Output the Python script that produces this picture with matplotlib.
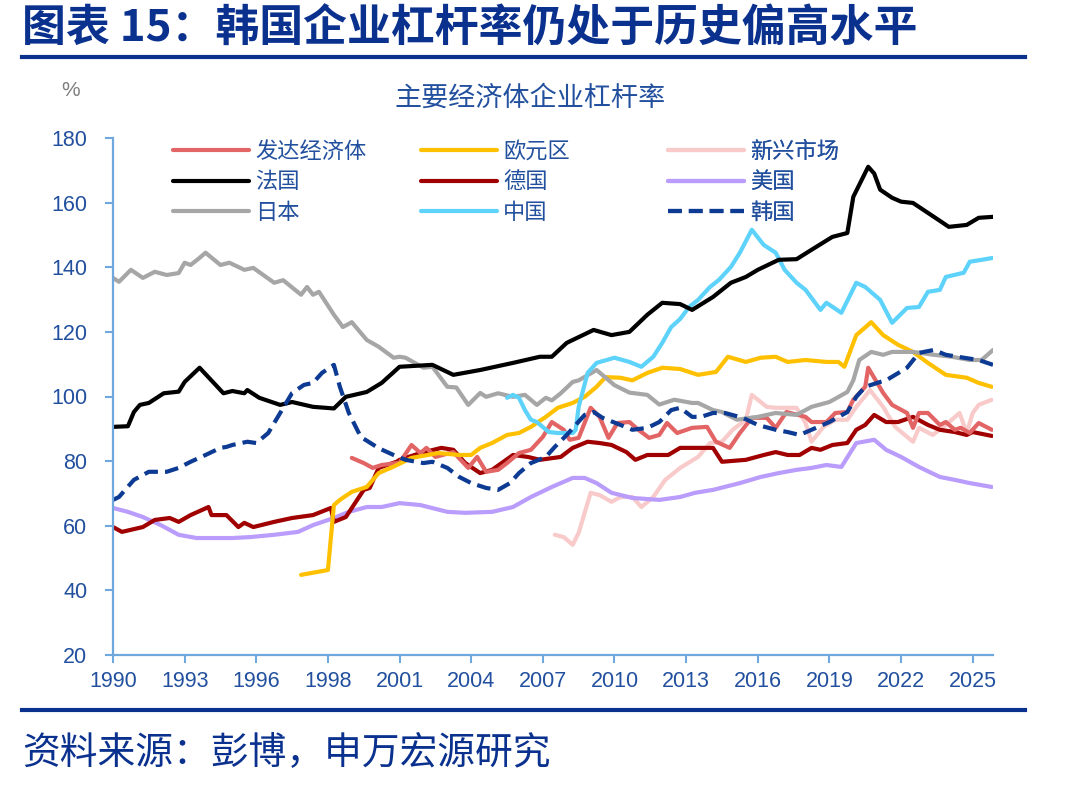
import matplotlib
matplotlib.use("Agg")
import matplotlib.pyplot as plt
from matplotlib.lines import Line2D

plt.rcParams['font.family'] = ['Liberation Sans', 'Noto Sans CJK SC', 'DejaVu Sans']

# ---------------- data (x = category index of the quarterly axis) ----------------
tick_labels = ['1990', '1993', '1996', '1998', '2001', '2004', '2007',
               '2010', '2013', '2016', '2019', '2022', '2025']

dev_x = [40, 42, 43.5, 45, 48, 50, 51.5, 52.5, 54, 57, 59.5, 61, 62.5, 64.5, 66, 68, 70, 72,
         73.5, 75.5, 76.5, 78, 80, 81.5, 83, 84.5, 86.5, 88, 89.8, 91.5, 92.8, 94.5, 97, 99.5,
         101, 103.3, 105, 107, 109.5, 111, 112.8, 116, 117, 119.5, 121, 123, 124, 126, 126.5,
         129, 130.5, 133, 134, 135, 136.5, 138.5, 139.5, 141, 142, 143.5, 145, 147.2]
dev_y = [81, 79.4, 77.9, 78.8, 79.5, 85, 82.5, 84.1, 81.3, 82.8, 77.9, 81.3, 76.7, 77.3, 79.4,
         82.5, 83.5, 87.5, 92.1, 89.7, 86.6, 87.2, 96.5, 93.7, 87.2, 91.8, 92.1, 89.7, 87.2, 88.1,
         91.8, 88.7, 90.3, 90.6, 86, 84.1, 88.7, 93.4, 93.4, 90.3, 95.2, 93.7, 92.1, 92.1, 94.9,
         95.2, 99, 103, 108.9, 101.1, 97.4, 94.9, 90.3, 94.9, 94.9, 91.2, 92.1, 89.7, 90.3, 88.7,
         91.8, 89.7]

euro_x = [31.5, 36, 37, 38, 40, 42.5, 44.5, 47, 50, 54.5, 58, 60, 61.5, 63.5, 66, 68, 70, 72.5,
          74.5, 77, 79, 81, 82.5, 85, 87, 89.5, 92, 95, 98, 101, 103, 106, 108.5, 111, 113, 116,
          119.5, 121.5, 122.5, 124.5, 127, 129, 131.5, 134, 136.5, 139.5, 143, 145, 147.2]
euro_y = [44.8, 46.3, 66.4, 68, 70.5, 72, 76.3, 78.3, 81, 82.5, 81.9, 81.9, 84.1, 85.6, 88.1,
          88.7, 90.6, 93.7, 96.5, 98, 99.9, 103, 106, 105.8, 105, 107.3, 108.9, 108.5, 106.7,
          107.6, 112.3, 110.7, 112, 112.3, 110.7, 111.3, 110.7, 110.7, 109.2, 119, 123, 119, 116,
          113.8, 110.4, 106.7, 105.8, 104.2, 103]

em_x = [74, 75.5, 77, 78, 80, 81.5, 83.5, 85, 87, 88.5, 90.5, 92.5, 95, 98, 100, 102, 103.8,
        106, 107, 109.5, 111, 114.5, 116, 117, 119, 121, 123, 124.5, 126.8, 129, 131, 134, 135,
        137.3, 139.5, 141.8, 143, 144, 145, 147.2]
em_y = [57.2, 56.5, 54.1, 57.8, 70.2, 69.5, 67.4, 68.9, 68.9, 65.8, 68.9, 74.2, 77.9, 81.3,
        85.6, 86, 89.7, 92.8, 100.5, 96.8, 96.5, 96.5, 91.8, 86, 90.6, 92.8, 92.8, 96.8, 102,
        96.8, 90.6, 86, 90.3, 88.1, 91.2, 94.9, 88.7, 94.9, 97.4, 99]

fr_x = [0, 2.5, 3.5, 4.5, 6, 8.5, 11, 12, 14.5, 18.5, 20, 22, 22.5, 24.5, 28, 30, 33.5, 37, 39,
        42.5, 45, 48, 53.5, 57, 61.5, 67, 71.5, 73.5, 76, 80.5, 83.5, 86.5, 89.5, 92, 95, 97,
        100.5, 103.5, 106, 108, 111.5, 114.5, 117, 120.5, 123, 124, 126.5, 127.5, 128.5, 130.5,
        132, 134, 137.5, 140, 143, 145, 147.4]
fr_y = [90.6, 90.8, 95.2, 97.4, 98, 101, 101.5, 104.5, 108.9, 101, 101.7, 101, 102, 99.6, 97.4,
        98.3, 96.8, 96.3, 99.9, 101.4, 104.2, 109.2, 109.8, 106.7, 108.2, 110.4, 112.3, 112.3,
        116.6, 120.6, 119, 120, 125.3, 129, 128.6, 126.8, 130.8, 135.2, 137, 139.2, 142.3,
        142.5, 145.4, 149.4, 150.6, 161.8, 171.1, 169, 164, 161.5, 160.3, 159.9, 155.6, 152.5,
        153.1, 155.3, 155.6]

de_x = [0, 1.5, 5, 7, 9.5, 11, 13, 16, 16.5, 19, 21, 22, 23.5, 27, 30, 33.5, 36.5, 37, 39, 42,
        43, 44.5, 47.5, 48, 51.5, 55, 57, 59, 61.5, 63.5, 67, 69.5, 71.5, 75, 77, 79.5, 81.5,
        83.5, 86, 87.5, 89.5, 93, 95, 97.5, 100.5, 102, 106, 109, 111, 113, 115, 117, 118.5,
        120.5, 123, 124.5, 126, 127.5, 129.5, 131.5, 134, 136.5, 138.5, 141, 143, 144, 147.2]
de_y = [59.6, 58.1, 59.6, 61.8, 62.4, 61.2, 63.3, 65.8, 63.3, 63.3, 59.6, 60.9, 59.6, 61.2,
        62.4, 63.3, 65.5, 61.2, 62.7, 71.1, 71.7, 77.9, 79.8, 80.4, 82.5, 84.1, 83.5, 79.4, 76.3,
        77.3, 81.9, 81.3, 80.4, 81.3, 84.1, 86, 85.6, 85, 82.8, 80.4, 81.9, 81.9, 84.1, 84.1,
        84.1, 79.8, 80.4, 81.9, 82.8, 81.9, 81.9, 84.1, 83.5, 85, 85.6, 89.7, 91.2, 94.3, 92.1,
        92.1, 93.7, 91.2, 89.7, 89, 88.1, 89, 87.8]

us_x = [0, 2.5, 5, 8, 11, 14, 17, 20, 23, 27, 31, 33.5, 37, 39.5, 42.5, 45, 48, 51.5, 56, 59,
        63.5, 67, 70, 73.5, 77, 79, 81, 83.5, 87, 91.5, 95, 97.5, 100.5, 105, 108.5, 111.5,
        114.5, 117, 119.5, 122, 124.5, 127.5, 129.5, 132, 135, 138.5, 141, 143.5, 147.2]
us_y = [65.5, 64.3, 62.7, 60.2, 57.2, 56.2, 56.2, 56.2, 56.5, 57.2, 58.1, 60.2, 62.4, 64.3,
        65.8, 65.8, 67, 66.4, 64.3, 64, 64.3, 65.8, 68.9, 72, 74.8, 74.8, 73.2, 70.2, 68.6, 68,
        68.9, 70.2, 71.1, 73.2, 75.1, 76.3, 77.3, 77.9, 78.8, 78.2, 85.6, 86.6, 83.5, 81.3, 78.2,
        75.1, 74.2, 73.2, 72]

jp_x = [0, 1, 3, 5, 7, 9, 11, 12, 13, 14.5, 15.5, 18, 19.5, 22, 23.5, 27, 28.5, 31.5, 32.5,
        33.5, 34.5, 37, 38.5, 40, 42.5, 44.5, 47, 48, 49, 52, 53.5, 56, 57.5, 59.5, 61.5, 62.5,
        64.5, 67, 69, 71, 72.5, 73.5, 75, 77, 78, 81, 84, 86.5, 89.5, 91.5, 94, 97, 98, 100.5,
        102, 104.5, 108, 111, 114.5, 117, 120, 123, 124, 125, 127, 129, 130.5, 134, 137.5,
        140.5, 143.5, 145.5, 147.4]
jp_y = [136.7, 135.5, 139.2, 136.7, 138.6, 137.6, 138.2, 141.4, 140.7, 142.9, 144.5, 140.7,
        141.4, 139.2, 139.8, 135.2, 136, 131.5, 133.9, 131.5, 132.4, 125.3, 121.5, 123, 117.5,
        115.4, 112, 112.3, 112, 108.9, 109.2, 103, 102.8, 97.4, 101.1, 99.9, 101, 99.9, 100.5,
        97.4, 99.6, 98.8, 101, 104.5, 105, 108.2, 103.5, 101.2, 100.5, 97.5, 99, 98, 98, 95.8,
        95.2, 92.8, 93.7, 94.9, 94.3, 96.8, 98.3, 101.4, 105, 111.3, 113.8, 112.9, 113.8, 113.8,
        112.9, 112.3, 111.3, 111.3, 114.4]

cn_x = [66, 67, 68, 69, 70, 71, 73, 74.5, 77, 77.5, 78, 79.5, 81, 84, 86.5, 88.5, 90.5, 92,
        93.5, 95, 96.5, 98, 100, 101.5, 103.5, 105, 107, 109, 111, 112.5, 114.5, 116, 118.5,
        119.5, 122, 124.5, 126, 128.5, 130.5, 133, 135, 136.5, 138.5, 139.5, 142.5, 143.5,
        145.5, 147.4]
cn_y = [99.6, 100.5, 99.6, 95.8, 92.8, 92.1, 89, 88.7, 88.7, 89.7, 96.8, 107.3, 110.4, 112,
        110.7, 109.2, 112.3, 116.6, 121.5, 124, 127.7, 129.9, 133.9, 136.1, 140.1, 144.5, 151.6,
        146.9, 144.5, 139.2, 135.2, 133, 126.8, 129, 125.9, 135.2, 133.9, 129.9, 122.8, 127.4,
        127.7, 132.4, 133, 137, 138.3, 141.7, 142.3, 142.9]

kr_x = [0, 1, 3.5, 6, 9, 11, 13, 15.5, 18, 19, 20, 22.5, 24, 26, 28, 30, 32, 33.5, 35, 37, 38,
        39.5, 41.5, 44.5, 47, 49, 52, 53.5, 56, 58, 60, 62.5, 64.5, 66.5, 68, 70, 72.5, 74, 76,
        77.5, 79, 80.5, 82, 85, 87, 89.5, 91.5, 93.5, 95, 97, 98.5, 100.5, 102.5, 105.5, 108,
        111, 113, 115, 117, 120, 123, 124.5, 126, 128.5, 129.5, 133, 135, 137.5, 139.5, 142.5,
        145, 147.4]
kr_y = [68, 68.9, 74.2, 76.7, 76.7, 77.9, 79.8, 81.9, 84.1, 84.4, 85, 86, 85.6, 88.7, 94.9,
        101.1, 103.6, 104.2, 107.3, 109.8, 103, 94.9, 87.5, 84, 81.9, 80.4, 79.4, 79.8, 77.9,
        75.1, 73.2, 71.7, 71.1, 73.2, 76.3, 79.4, 81.3, 84.4, 88.1, 91.2, 94.3, 95.2, 93.4,
        91.2, 89.7, 90.3, 92.1, 95.8, 96.5, 93.7, 93.7, 94.9, 94.9, 93.4, 91.2, 89.7, 89, 88.1,
        89.7, 92.1, 95.2, 99.9, 103, 104.5, 105, 108.9, 113.5, 114.4, 112.9, 112, 111.3, 109.8]

# ---------------- styling ----------------
NAVY = '#0B318F'
TXT = '#22509E'
AXC = '#6FA8DC'

fig = plt.figure(figsize=(10.74, 7.87), dpi=100)
ax = fig.add_axes([113 / 1074, 1 - 655 / 787, 880 / 1074, 517 / 787])

LW = 3.0
series = {
    '新兴市场': (em_x, em_y, dict(color='#F9CACA')),
    '美国': (us_x, us_y, dict(color='#B99CFB')),
    '德国': (de_x, de_y, dict(color='#A00000')),
    '发达经济体': (dev_x, dev_y, dict(color='#E26464')),
    '欧元区': (euro_x, euro_y, dict(color='#FFC000')),
    '日本': (jp_x, jp_y, dict(color='#A6A6A6')),
    '中国': (cn_x, cn_y, dict(color='#5DD2FA')),
    '法国': (fr_x, fr_y, dict(color='#000000')),
    '韩国': (kr_x, kr_y, dict(color='#0D3A92', linestyle=(0, (3.3, 1.7)))),
}
handles = {}
for name, (xs, ys, kw) in series.items():
    (ln,) = ax.plot(xs, ys, lw=LW, label=name, solid_capstyle='round', **kw)
    handles[name] = ln

ax.set_xlim(0, 147.4)
ax.set_ylim(20, 180)
ax.set_yticks(range(20, 181, 20))
ax.set_xticks([12 * i for i in range(len(tick_labels))])
ax.set_xticklabels(tick_labels)
for s in ['top', 'right']:
    ax.spines[s].set_visible(False)
for s in ['left', 'bottom']:
    ax.spines[s].set_color(AXC)
    ax.spines[s].set_linewidth(1.6)
ax.tick_params(axis='both', colors=AXC, labelcolor=TXT, labelsize=15.5,
               length=5.5, width=1.5, direction='out')
ax.tick_params(axis='y', pad=13)
ax.tick_params(axis='x', pad=6)

# legends: three columns
cols = [['发达经济体', '法国', '日本'], ['欧元区', '德国', '中国'], ['新兴市场', '美国', '韩国']]
col_left = [173, 421, 668]
for names, xl in zip(cols, col_left):
    leg = ax.legend([handles[n] for n in names], names, loc='upper left',
                    bbox_to_anchor=(xl / 1074, 1 - 140 / 787), bbox_transform=fig.transFigure,
                    frameon=False, handlelength=3.4, handletextpad=0.3, labelspacing=0.33,
                    borderpad=0, borderaxespad=0,
                    prop={'family': ['Noto Sans CJK SC'], 'size': 16})
    for t in leg.get_texts():
        t.set_color(TXT)
    ax.add_artist(leg)

# titles and frame texts
fig.text(22 / 1074, 1 - 29 / 787, '图表 15：韩国企业杠杆率仍处于历史偏高水平',
         family=['Noto Sans CJK SC'], weight='bold', fontsize=31.6, color=NAVY,
         ha='left', va='center')
fig.add_artist(Line2D([22 / 1074, 1025 / 1074], [1 - 57 / 787] * 2, lw=3, color=NAVY))
fig.text(530 / 1074, 1 - 98 / 787, '主要经济体企业杠杆率', family=['Noto Sans CJK SC'],
         fontsize=19.5, color=TXT, ha='center', va='center')
fig.text(71 / 1074, 1 - 90 / 787, '%', fontsize=15, color='#7F7F7F', ha='center', va='center')
fig.add_artist(Line2D([22 / 1074, 1025 / 1074], [1 - 710 / 787] * 2, lw=3, color=NAVY))
fig.text(22 / 1074, 1 - 753 / 787, '资料来源：彭博，申万宏源研究', family=['Noto Sans CJK SC'],
         fontsize=27.2, color=NAVY, ha='left', va='center')

fig.savefig('out.png', dpi=100)
